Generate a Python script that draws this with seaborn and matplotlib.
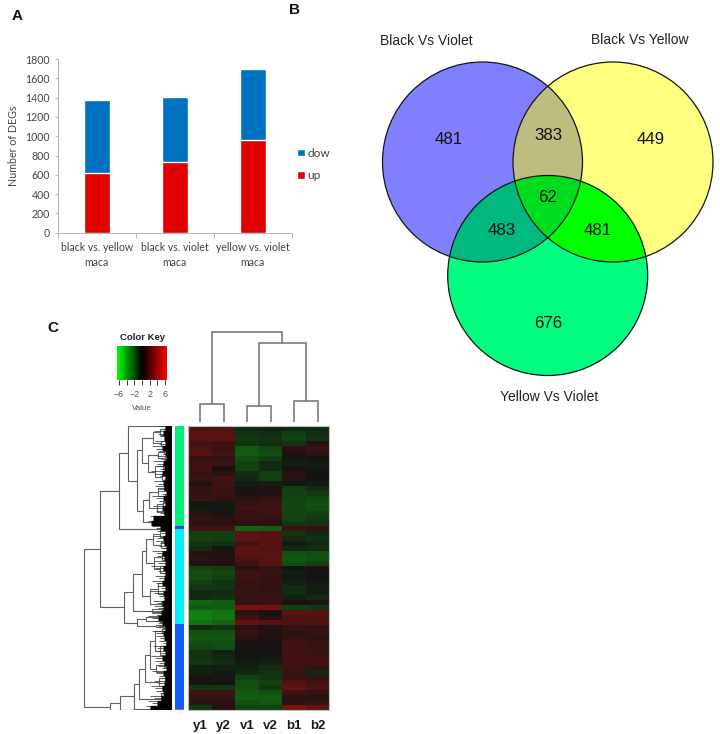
import numpy as np
import pandas as pd
import matplotlib
matplotlib.use("Agg")
import matplotlib.pyplot as plt
from matplotlib.cm import ScalarMappable
from matplotlib.colors import LinearSegmentedColormap, ListedColormap, Normalize
from matplotlib.patches import Circle
from matplotlib.transforms import Bbox
import seaborn as sns

# ---------- panel A data ----------
comparisons = ["black vs. yellow\nmaca", "black vs. violet\nmaca", "yellow vs. violet\nmaca"]
deg_up = [615, 730, 960]
deg_down = [755, 675, 740]

# ---------- panel B data ----------
venn_sets = ["Black Vs Violet", "Black Vs Yellow", "Yellow Vs Violet"]
only_counts = [481, 449, 676]
pair_counts = [383, 483, 481]
triple_count = 62

# ---------- panel C data (one value per block of genes) ----------
sample_names = ["y1", "y2", "v1", "v2", "b1", "b2"]
y1 = [1.6, 2.0, 2.0, 1.3, 1.6, 1.8, 0.9, 1.3, 1.4, 1.0, 1.2, 0.4, 0.9, 0.9, 1.1, -0.1, -0.3, 0.7, 0.9,
      0.7, 1.4, -1.2, -1.3, -1.0, -0.7, 0.5, 0.6, 0.4, -1.4, -1.6, -1.6, -1.2, -1.0, -0.6, -0.7, -2.2,
      -1.9, -2.9, -3.0, -2.6, -0.7, -1.6, -1.9, -1.6, -1.4, -0.9, -0.9, -1.0, -0.4, -0.4, 0.2, 0.3,
      -1.0, 1.2, 1.0, 0.7, -1.0]
y2 = [1.6, 1.9, 2.0, 1.2, 1.1, 1.4, 0.9, 1.2, 0.2, 0.6, 1.4, 1.2, 1.1, 1.1, 0.9, -0.2, -0.2, 0.4, 0.7,
      0.6, 1.3, -1.3, -1.2, -0.9, -0.2, 0.4, 0.5, 0.4, -1.2, -1.4, -1.3, -0.9, -1.0, -0.6, -0.9, -2.0,
      -2.0, -2.6, -2.7, -2.2, -0.9, -1.7, -1.9, -1.7, -1.6, -0.4, -0.6, -0.7, -0.4, -0.2, -0.2, 0.2,
      -1.0, 1.2, 1.0, 0.7, 0.4]
v1 = [-0.6, -0.9, -1.1, -0.9, -1.9, -2.0, -1.6, -1.3, -1.3, -0.7, -0.6, -0.3, 0.2, 0.4, 0.6, 0.9, 1.2,
      0.9, 1.0, 0.6, -2.2, 2.0, 2.2, 1.4, 2.0, 2.0, 1.6, 1.3, 0.5, 1.2, 1.2, 1.0, 1.0, 1.0, 0.9, 1.0,
      2.9, 0.6, 1.2, 2.3, 0.7, 1.0, 0.7, 0.4, 0.2, 0.1, -0.1, -0.3, -0.4, -0.6, -1.3, -1.6, -1.7, -1.9,
      -2.0, -1.7, -1.4]
v2 = [-0.5, -0.7, -0.9, -0.7, -1.4, -1.7, -1.2, -0.6, -0.7, -1.2, -1.2, -0.4, 0.4, 0.4, 0.9, 1.2, 1.3,
      1.2, 0.9, 0.7, -2.0, 1.9, 1.9, 1.9, 1.7, 2.0, 1.9, 1.9, 0.9, 1.0, 0.9, 0.9, 0.8, 0.8, 1.0, 1.0,
      2.6, 0.3, 0.4, 1.9, 0.4, 0.4, 0.3, 0.2, 0.1, 0.1, -0.2, -0.4, -0.7, -0.9, -1.0, -1.3, -0.9, -1.7,
      -2.0, -1.9, -1.3]
b1 = [-0.6, -1.2, -1.3, -0.9, 0.7, 0.4, -0.2, -0.4, 0.2, 0.7, 0.6, -0.2, -1.2, -1.3, -1.3, -1.4, -1.4,
      -1.4, -1.4, -1.0, 1.1, -1.0, -0.7, -0.3, -0.6, -1.7, -1.9, -1.6, -0.1, -0.3, -0.2, -0.4, -0.7,
      -0.7, -0.4, 0.2, -1.3, 2.0, 1.6, 1.6, 0.9, 0.7, 0.9, 1.3, 1.3, 1.2, 1.3, 1.3, 1.2, 1.0, 1.2, 1.6,
      2.2, 1.2, 0.7, 0.6, 2.9]
b2 = [-0.6, -0.7, -0.9, 0.6, 1.1, 0.6, 0.1, -0.3, -0.2, 0.1, 0.1, -0.3, -0.7, -1.1, -1.4, -1.7, -1.6,
      -1.3, -1.1, -0.9, 0.9, -0.6, -0.9, -0.6, -0.7, -1.6, -1.7, -1.3, 0.4, 0.2, 0.1, -0.2, -0.3, -0.3,
      -0.6, 0.4, -1.0, 1.9, 1.7, 1.7, 0.9, 0.9, 0.6, 1.1, 1.0, 1.1, 1.3, 1.3, 0.9, -0.6, 0.9, 1.3, 1.6,
      1.0, 0.7, 0.9, 2.2]

module_ids = [0, 1, 2, 3, 4]
module_sizes = [100, 3, 96, 85, 1]
module_colors = ["#00f07a", "#4a3ce0", "#00eefa", "#0f5cff", "#dc3ce6"]

# trees are (height, upper child, lower child), a bare number is a leaf position
sample_tree = (90.3, (18.3, 0.5, 1.5), (79.3, (16.6, 2.5, 3.5), (21.6, 4.5, 5.5)))

gene_tree = (88,
    (72,
        (53,
            (44, 0.5,
                (35,
                    (30,
                        (19, (12, (7, 2, 5), (6, 8, 11)), (11, (6, 14, 16), (5, 19, 21))),
                        (24, (14, (8, 24, 28), (7, 31, 34)),
                             (17, (9, 38, 43), (10, (5, 47, 50), (4, 53, 56))))),
                    (29,
                        (23, (14, (8, 60, 64), (7, 68, 72)), (15, (9, 76, 80), (8, 84, 88))),
                        (18, (7, 93, 96), (5, 98, 100))))),
            (10, 102, 104)),
        (48,
            (39.6,
                (30,
                    (26, (19, (12, 105, 111), (11, 116, 122)), (18, (10, 128, 134), (12, 140, 148))),
                    (22, (14, (8, 155, 160), (7, 166, 172)), (11, (6, 175, 178), (5, 179, 181)))),
                (20, (10, 183, 185), (8, 186, 188))),
            (35.6,
                (26, (15, 190, 193), (12, 195, 197)),
                (16, (9, 199, 200), (7, 201, 202))))),
    (62,
        (52,
            (38,
                (33,
                    (27,
                        (22,
                            (17, (10, 204, 208), (12, (6, 218, 224), (5, 228, 232))),
                            (16, (8, 238, 242), (7, 246, 248))),
                        (13, (7, 251, 255), (6, 259, 263))),
                    (11, (6, 266, 270), (7, (4, 276, 279), (3, 281, 282)))),
                (4, 283, 284.5)),
            (3, 284, 285)),
        (2, 285, 285.4)))

# dense leaf region next to the heatmap, per block of genes: solid part and hatched part
leaf_band = [7, 9, 8, 7, 10, 7, 6, 9, 8, 10, 7, 9, 8, 6, 9, 7, 10, 8, 19, 21, 12, 7, 9, 8, 6, 10, 8, 7, 9, 7,
             8, 10, 7, 9, 8, 10, 9, 11, 14, 10, 7, 9, 8, 6, 9, 7, 10, 8, 6, 9, 7, 8, 10, 9, 11, 15, 22]
leaf_hatch = [14, 18, 12, 17, 20, 13, 15, 19, 16, 21, 12, 18, 17, 14, 20, 13, 19, 16, 22, 24, 20, 15, 19, 16,
              13, 20, 15, 18, 21, 14, 17, 20, 15, 22, 13, 19, 18, 24, 24, 18, 14, 20, 16, 13, 19, 15, 21,
              17, 14, 20, 13, 18, 21, 16, 22, 24, 26]

key_ticks = [-6, -4, -2, 0, 2, 4, 6]
key_labels = ["\u22126", "", "\u22122", "", "2", "", "6"]

W, H = 720, 734


def px_axes(fig, left, top, right, bottom, **kw):
    return fig.add_axes([left / W, 1 - bottom / H, (right - left) / W, (bottom - top) / H], **kw)


def draw_tree(ax, node, sideways):
    if not isinstance(node, tuple):
        return node, 0
    h, upper, lower = node
    pos_a, h_a = draw_tree(ax, upper, sideways)
    pos_b, h_b = draw_tree(ax, lower, sideways)
    heights = [h_a, h, h, h_b]
    positions = [pos_a, pos_a, pos_b, pos_b]
    if sideways:
        ax.plot(heights, positions, color="#606060", lw=0.8, solid_joinstyle="miter")
    else:
        ax.plot(positions, heights, color="#707070", lw=1.1, solid_joinstyle="miter")
    return (pos_a + pos_b) / 2, h


def overlap_outline(centres, radius):
    # boundary of the region shared by all given circles (always convex here)
    angles = np.radians(np.arange(0, 360, 0.25))
    pts = []
    for cx, cy in centres:
        ring = np.column_stack([cx + radius * np.cos(angles), cy + radius * np.sin(angles)])
        keep = np.ones(len(ring), dtype=bool)
        for ox, oy in centres:
            keep &= np.hypot(ring[:, 0] - ox, ring[:, 1] - oy) <= radius + 1e-9
        pts.append(ring[keep])
    pts = np.vstack(pts)
    mid = pts.mean(axis=0)
    order = np.argsort(np.arctan2(pts[:, 1] - mid[1], pts[:, 0] - mid[0]))
    return pts[order]


sns.set_theme(style="white")
plt.rcParams["font.family"] = ["Liberation Sans", "DejaVu Sans"]

fig = plt.figure(figsize=(W / 100, H / 100), dpi=100)

# ---------- A: stacked bars ----------
bars = pd.DataFrame({"comparison": comparisons, "up": deg_up, "down": deg_down})
bars["total"] = bars["up"] + bars["down"]

ax_a = px_axes(fig, 57.7, 59, 291.7, 232.7)
sns.barplot(data=bars, x="comparison", y="total", color="#0070C0", saturation=1, width=0.333,
            label="down", ax=ax_a)
sns.barplot(data=bars, x="comparison", y="up", color="#E00000", saturation=1, width=0.333,
            label="up", ax=ax_a)
ax_a.set_xlim(-0.5, 2.5)
ax_a.set_ylim(0, 1800)
ax_a.set_yticks(range(0, 1801, 200))
ax_a.set_xlabel("")
ax_a.set_ylabel("Number of DEGs", family="Lato", fontsize=7.7, color="#444444", labelpad=5)
ax_a.set_xticks([-0.5, 0.5, 1.5, 2.5], minor=True)
ax_a.tick_params(axis="x", which="minor", bottom=True, length=3.5, width=0.7, color="#b5b5b5")
ax_a.tick_params(axis="x", which="major", length=0, pad=7)
ax_a.tick_params(axis="y", left=True, length=2.5, width=0.7, color="#b5b5b5", pad=3)
for lab in ax_a.get_xticklabels() + ax_a.get_yticklabels():
    lab.set_family("Lato")
    lab.set_fontsize(7.6)
    lab.set_color("#444444")
    lab.set_linespacing(1.4)
sns.despine(ax=ax_a)
for side in ["left", "bottom"]:
    ax_a.spines[side].set_color("#b5b5b5")
    ax_a.spines[side].set_linewidth(0.7)

handles, labels = ax_a.get_legend_handles_labels()
leg = ax_a.legend(handles, labels, loc="center left", bbox_to_anchor=(297 / W, 1 - 164.5 / H),
                  bbox_transform=fig.transFigure, frameon=False, handlelength=0.67, handleheight=0.6,
                  handletextpad=0.2, labelspacing=1.0, borderpad=0, borderaxespad=0,
                  prop={"family": "Lato", "size": 8.6})
for txt in leg.get_texts():
    txt.set_color("#444444")
    txt.set_clip_box(Bbox.from_extents(0, 0, 329.5, H))
    txt.set_clip_on(True)

# ---------- whole figure overlay: panel letters and Venn ----------
ax_o = fig.add_axes([0, 0, 1, 1])
ax_o.set_xlim(0, W)
ax_o.set_ylim(H, 0)
ax_o.axis("off")
ax_o.patch.set_alpha(0)

for letter, lx, ly in [("A", 17, 16), ("B", 294, 10), ("C", 53, 328)]:
    ax_o.text(lx, ly, letter, fontsize=11, fontweight="bold", color="#111111", ha="center", va="center")

circles = [(482.5, 162), (613, 162), (547.7, 275.5)]
R = 100
circle_fills = ["#8080FF", "#FFFF80", "#00FF80"]
for (cx, cy), col in zip(circles, circle_fills):
    ax_o.add_patch(Circle((cx, cy), R, fc=col, ec="none"))
for group, col in [((0, 1), "#BDBD80"), ((0, 2), "#00B880"), ((1, 2), "#00FF00"), ((0, 1, 2), "#00DC1E")]:
    ax_o.fill(*overlap_outline([circles[i] for i in group], R).T, color=col, lw=0)
for cx, cy in circles:
    ax_o.add_patch(Circle((cx, cy), R, fc="none", ec="#151515", lw=0.9))

venn_font = 12.2
for count, (tx, ty) in zip(only_counts, [(448.7, 140), (651, 140), (548, 323)]):
    ax_o.text(tx, ty, str(count), fontsize=venn_font, color="#111111", ha="center", va="center")
for count, (tx, ty) in zip(pair_counts, [(548, 135), (502, 230.5), (598, 230.5)]):
    ax_o.text(tx, ty, str(count), fontsize=venn_font, color="#111111", ha="center", va="center")
ax_o.text(548, 197, str(triple_count), fontsize=venn_font, color="#111111", ha="center", va="center")
for name, (tx, ty) in zip(venn_sets, [(426, 41), (639.5, 40), (549, 397)]):
    ax_o.text(tx, ty, name, fontsize=10, color="#222222", ha="center", va="center")

# ---------- C: heatmap, colour key, side bar and trees ----------
expr = pd.DataFrame(dict(zip(sample_names, [y1, y2, v1, v2, b1, b2])))
green_black_red = LinearSegmentedColormap.from_list("gbr", ["#00FF00", "#000000", "#FF0000"])
key_norm = Normalize(-6.5, 6.5)

ax_h = px_axes(fig, 188.3, 425.7, 329.3, 710.3)
sns.heatmap(expr, ax=ax_h, cmap=green_black_red, norm=key_norm, alpha=0.93, yticklabels=False, cbar=False)
ax_h.tick_params(axis="x", length=0, pad=7)
ax_h.set_xticklabels(sample_names, rotation=0, fontsize=9.5, fontweight="bold", color="#1a1a1a")
for side in ax_h.spines.values():
    side.set_visible(True)
    side.set_color("#b7c2b7")
    side.set_linewidth(0.8)

ax_key = px_axes(fig, 117, 345.7, 167, 380)
key_bar = fig.colorbar(ScalarMappable(norm=key_norm, cmap=green_black_red), cax=ax_key,
                       orientation="horizontal", ticks=key_ticks)
key_bar.outline.set_visible(False)
ax_key.set_xticks(key_ticks, key_labels)
ax_key.tick_params(axis="x", bottom=True, length=3.5, width=0.7, color="#333333", labelsize=6.4,
                   labelcolor="#555555", pad=4)
ax_key.set_xlabel("Value", fontsize=5.8, color="#555555", labelpad=4)
ax_o.text(142, 337, "Color Key", fontsize=6.8, fontweight="bold", color="#222222", ha="center", va="center")

ax_side = px_axes(fig, 175.3, 425.7, 184, 710.3)
side_col = np.repeat(module_ids, module_sizes).reshape(-1, 1)
sns.heatmap(side_col, ax=ax_side, cmap=ListedColormap(module_colors), cbar=False,
            xticklabels=False, yticklabels=False, vmin=-0.5, vmax=4.5)

ax_top = px_axes(fig, 188.3, 330, 329.3, 422.3)
ax_top.set_xlim(0, 6)
ax_top.set_ylim(0, 92.3)
ax_top.axis("off")
draw_tree(ax_top, sample_tree, sideways=False)

ax_left = px_axes(fig, 82, 425.7, 172.3, 710.3)
ax_left.set_xlim(90.3, 0)
ax_left.set_ylim(285, 0)
ax_left.axis("off")
draw_tree(ax_left, gene_tree, sideways=True)
band_rows = np.arange(len(leaf_band)) * 5 + 2.5
ax_left.hlines(band_rows - 1.7, 0, leaf_hatch, color="#3a3a3a", lw=0.55)
ax_left.hlines(band_rows + 0.4, 0, np.array(leaf_hatch) - 4, color="#3a3a3a", lw=0.55)
ax_left.hlines(band_rows, 0, leaf_band, color="black", lw=3.8)

fig.savefig("out.png", dpi=100)
